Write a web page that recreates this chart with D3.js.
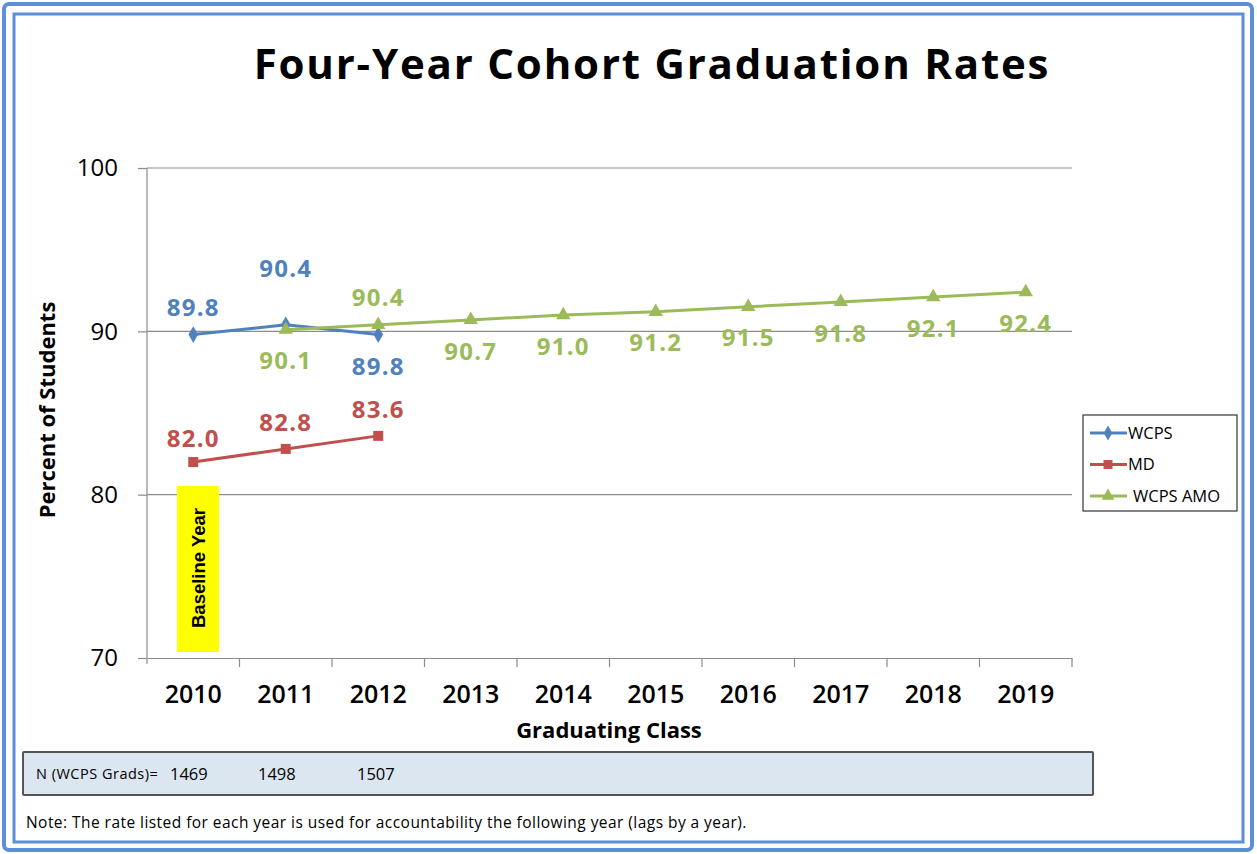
<!DOCTYPE html>
<html>
<head>
<meta charset="utf-8">
<script src="https://cdn.jsdelivr.net/npm/d3@7"></script>
<style>
  body { margin: 0; background: #fff; }
  svg { display: block; font-family: "Open Sans", sans-serif; }
</style>
</head>
<body>
<svg id="chart"></svg>
<script>
// chart data
const years = ['2010', '2011', '2012', '2013', '2014', '2015', '2016', '2017', '2018', '2019'];
const wcps = [89.8, 90.4, 89.8];
const md = [82.0, 82.8, 83.6];
const amoYears = ['2011', '2012', '2013', '2014', '2015', '2016', '2017', '2018', '2019'];
const amo = [90.1, 90.4, 90.7, 91.0, 91.2, 91.5, 91.8, 92.1, 92.4];
const yTicks = [70, 80, 90, 100];
const nGrads = [1469, 1498, 1507];

let width = 1257;
let height = 854;

const svg = d3.select('#chart').attr('width', width).attr('height', height);

// double blue frame
svg.append('rect').attr('x', 4).attr('y', 4).attr('width', width - 9).attr('height', height - 8)
  .attr('rx', 5).attr('fill', 'none').attr('stroke', '#5b8fd8').attr('stroke-width', 4);
svg.append('rect').attr('x', 14).attr('y', 14).attr('width', width - 28).attr('height', height - 26)
  .attr('fill', 'none').attr('stroke', '#5b8fd8').attr('stroke-width', 3);

svg.append('text')
  .attr('x', 652).attr('y', 79)
  .attr('text-anchor', 'middle')
  .attr('font-size', 42).attr('font-weight', 'bold')
  .attr('letter-spacing', 1.8)
  .text('Four-Year Cohort Graduation Rates');

const x = d3.scaleBand().domain(years).range([147, 1072]).padding(0);
const y = d3.scaleLinear().domain([70, 100]).range([658, 168]);
const cx = (d) => x(d) + x.bandwidth() / 2;

// gridlines
svg.append('g')
  .selectAll('line')
  .data(yTicks.filter((t) => t > 70))
  .join('line')
  .attr('x1', 147).attr('x2', 1072)
  .attr('y1', (d) => y(d)).attr('y2', (d) => y(d))
  .attr('stroke', '#8c8c8c').attr('stroke-width', 1.2);

// y axis
const yAxis = svg.append('g')
  .attr('transform', 'translate(147,0)')
  .call(d3.axisLeft(y).tickValues(yTicks).tickSize(9).tickPadding(20));
yAxis.select('.domain').remove();
yAxis.selectAll('line').attr('stroke', '#8c8c8c').attr('stroke-width', 1.2);
yAxis.selectAll('text').attr('font-size', 24).attr('fill', '#000')
  .attr('font-family', '"Open Sans", sans-serif');
svg.append('line').attr('x1', 147).attr('x2', 147).attr('y1', 168).attr('y2', 664)
  .attr('stroke', '#8c8c8c').attr('stroke-width', 1.2);

// x axis
const xAxis = svg.append('g')
  .attr('transform', 'translate(0,658)')
  .call(d3.axisBottom(x).tickSize(0).tickPadding(27));
xAxis.select('.domain').attr('stroke', '#8c8c8c').attr('stroke-width', 1.2);
xAxis.selectAll('text').attr('font-size', 25).attr('fill', '#000')
  .attr('font-family', '"Open Sans", sans-serif').attr('font-weight', 600);
svg.append('g')
  .selectAll('line')
  .data(years)
  .join('line')
  .attr('x1', (d) => x(d) + x.bandwidth()).attr('x2', (d) => x(d) + x.bandwidth())
  .attr('y1', 658).attr('y2', 667)
  .attr('stroke', '#8c8c8c').attr('stroke-width', 1.2);

svg.append('text').attr('x', 609).attr('y', 738).attr('text-anchor', 'middle')
  .attr('font-size', 22).attr('font-weight', 'bold').text('Graduating Class');
svg.append('text').attr('transform', 'translate(55,410) rotate(-90)').attr('text-anchor', 'middle')
  .attr('font-size', 22).attr('font-weight', 'bold').text('Percent of Students');

// baseline year marker
svg.append('rect').attr('x', 177).attr('y', 486).attr('width', 42).attr('height', 166).attr('fill', '#ffff00');
svg.append('text').attr('transform', 'translate(205,568) rotate(-90)').attr('text-anchor', 'middle')
  .attr('font-size', 18.5).attr('font-weight', 'bold')
  .attr('font-family', '"Liberation Sans Narrow", "Liberation Sans", sans-serif')
  .text('Baseline Year');

const series = [
  { name: 'WCPS', color: '#4f81bd', xs: years.slice(0, wcps.length), vals: wcps, symbol: d3.symbolDiamond, size: 80,
    dy: [-27, -56, 32] },
  { name: 'MD', color: '#c0504d', xs: years.slice(0, md.length), vals: md, symbol: d3.symbolSquare, size: 100,
    dy: [-24, -27, -27] },
  { name: 'WCPS AMO', color: '#9bbb59', xs: amoYears, vals: amo, symbol: d3.symbolTriangle, size: 90,
    dy: [31, -27, 31, 31, 31, 31, 31, 31, 31] }
];

const line = d3.line().x((d) => cx(d[0])).y((d) => y(d[1]));

series.forEach((s) => {
  const pts = s.xs.map((d, i) => [d, s.vals[i]]);
  const g = svg.append('g');
  g.append('path').datum(pts).attr('d', line)
    .attr('fill', 'none').attr('stroke', s.color).attr('stroke-width', 3);
  g.selectAll('path.m').data(pts).join('path').attr('class', 'm')
    .attr('d', d3.symbol().type(s.symbol).size(s.size))
    .attr('transform', (d) => `translate(${cx(d[0])},${y(d[1])})`)
    .attr('fill', s.color);
  g.selectAll('text').data(pts).join('text')
    .attr('x', (d) => cx(d[0]))
    .attr('y', (d, i) => y(d[1]) + s.dy[i])
    .attr('dy', '0.36em')
    .attr('text-anchor', 'middle')
    .attr('font-size', 24).attr('font-weight', 'bold')
    .attr('letter-spacing', 1.2)
    .attr('fill', s.color)
    .text((d) => d[1].toFixed(1));
});

// legend
const legend = svg.append('g');
legend.append('rect').attr('x', 1083).attr('y', 415).attr('width', 154).attr('height', 96)
  .attr('fill', '#fff').attr('stroke', '#333').attr('stroke-width', 1.2);
series.forEach((s, i) => {
  const ly = 433 + i * 31.5;
  legend.append('line').attr('x1', 1090).attr('x2', 1127).attr('y1', ly).attr('y2', ly)
    .attr('stroke', s.color).attr('stroke-width', 3);
  legend.append('path').attr('d', d3.symbol().type(s.symbol).size(s.size * 0.8))
    .attr('transform', `translate(1108,${ly})`).attr('fill', s.color);
  legend.append('text').attr('x', i === 2 ? 1133 : 1128).attr('y', ly).attr('dy', '0.36em')
    .attr('font-size', 16.5).text(s.name);
});

// N box
svg.append('rect').attr('x', 23).attr('y', 752).attr('width', 1070).attr('height', 43)
  .attr('fill', '#dce6f0').attr('stroke', '#555').attr('stroke-width', 2).attr('rx', 1);
svg.append('text').attr('x', 36).attr('y', 774).attr('dy', '0.36em').attr('font-size', 14.5)
  .attr('letter-spacing', 0.5)
  .text('N (WCPS Grads)=');
const nX = [170, 258, 357];
svg.append('g').selectAll('text').data(nGrads).join('text')
  .attr('x', (d, i) => nX[i]).attr('y', 774).attr('dy', '0.36em').attr('font-size', 16.5)
  .text((d) => d);

svg.append('text').attr('x', 26).attr('y', 822).attr('dy', '0.36em').attr('font-size', 15.5)
  .attr('letter-spacing', 0.45)
  .text('Note: The rate listed for each year is used for accountability the following year (lags by a year).');
</script>
</body>
</html>
